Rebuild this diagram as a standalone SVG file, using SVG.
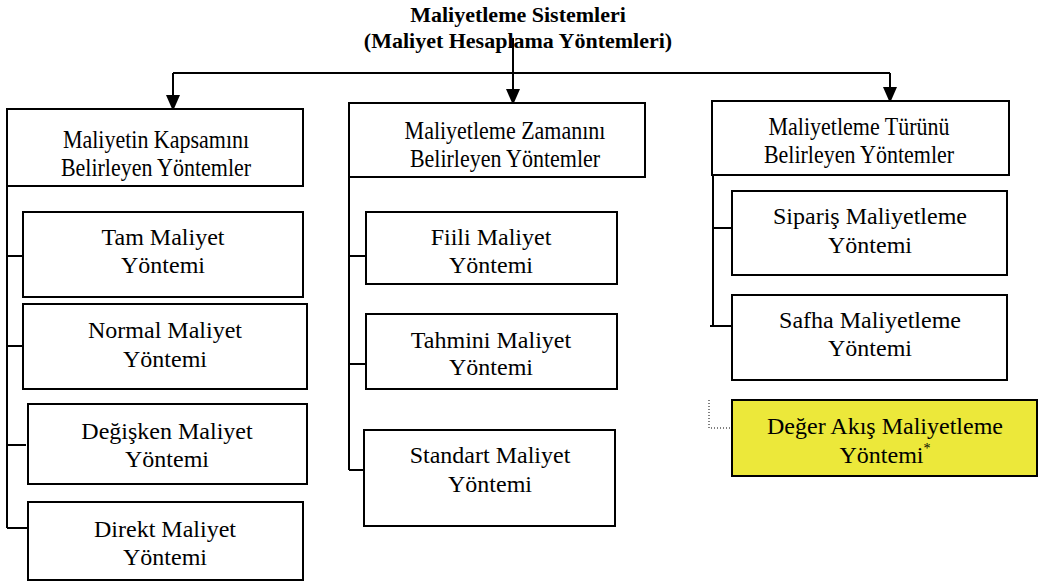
<svg xmlns="http://www.w3.org/2000/svg" width="1039" height="581" viewBox="0 0 1039 581">
<defs>
<style>
.box{fill:#fff;stroke:#000;stroke-width:2}
.hl{fill:#ECE83A;stroke:#000;stroke-width:2}
.t{font-family:"Liberation Serif","Times New Roman",serif;font-size:24px;fill:#000;text-anchor:middle}
.h{font-family:"Liberation Serif","Times New Roman",serif;font-size:22px;fill:#000;text-anchor:middle}
.title{font-family:"Liberation Serif","Times New Roman",serif;font-size:22px;font-weight:bold;fill:#000;text-anchor:middle}
.ln{fill:none;stroke:#000;stroke-width:2}
.dot{fill:none;stroke:#000;stroke-width:1;stroke-dasharray:1 2}
</style>
<marker id="ah" viewBox="0 0 14 16" refX="14" refY="7" markerWidth="14" markerHeight="16" markerUnits="userSpaceOnUse" orient="auto">
<path d="M0,0 L16,7 L0,14 Z" fill="#000"/>
</marker>
</defs>
<rect width="1039" height="581" fill="#fff"/>
<g id="title">
<text class="title" x="518" y="22">Maliyetleme Sistemleri</text>
<text class="title" x="518" y="48">(Maliyet Hesaplama Yöntemleri)</text>
</g>
<g id="connectors">
<path class="ln" d="M173,73 H890"/>
<path class="ln" d="M173,73 V109" marker-end="url(#ah)"/>
<path class="ln" d="M513,38 V103" marker-end="url(#ah)"/>
<path class="ln" d="M890,73 V101" marker-end="url(#ah)"/>
<path class="ln" d="M7,186 V528 M7,256 H23 M7,346 H27 M7,445 H26 M7,528 H28"/>
<path class="ln" d="M349,177 V470 M349,256 H366 M349,364 H366 M349,470 H364"/>
<path class="ln" d="M713,175 V326 M713,228 H732 M710,326 H732"/>
<path class="dot" d="M709,400 V428 H732"/>
</g>
<g id="h1">
<rect class="box" x="7" y="109" width="296" height="77"/>
<text class="h" transform="translate(156,148) scale(1,1.15)">Maliyetin Kapsamını</text>
<text class="h" transform="translate(156,176) scale(1,1.15)">Belirleyen Yöntemler</text>
</g>
<g id="h2">
<rect class="box" x="349" y="103" width="296" height="74"/>
<text class="h" transform="translate(505,139) scale(1,1.15)">Maliyetleme Zamanını</text>
<text class="h" transform="translate(505,167) scale(1,1.15)">Belirleyen Yöntemler</text>
</g>
<g id="h3">
<rect class="box" x="712" y="101" width="297" height="74"/>
<text class="h" transform="translate(859,135) scale(1,1.15)">Maliyetleme Türünü</text>
<text class="h" transform="translate(859,163) scale(1,1.15)">Belirleyen Yöntemler</text>
</g>
<g id="tam">
<rect class="box" x="23" y="212" width="280" height="85"/>
<text class="t" x="163" y="245">Tam Maliyet</text>
<text class="t" x="163" y="273">Yöntemi</text>
</g>
<g id="normal">
<rect class="box" x="23" y="304" width="284" height="85"/>
<text class="t" x="165" y="338">Normal Maliyet</text>
<text class="t" x="165" y="367">Yöntemi</text>
</g>
<g id="degisken">
<rect class="box" x="28" y="404" width="279" height="80"/>
<text class="t" x="167" y="439">Değişken Maliyet</text>
<text class="t" x="167" y="467">Yöntemi</text>
</g>
<g id="direkt">
<rect class="box" x="28" y="502" width="275" height="78"/>
<text class="t" x="165" y="537">Direkt Maliyet</text>
<text class="t" x="165" y="565">Yöntemi</text>
</g>
<g id="fiili">
<rect class="box" x="366" y="212" width="251" height="72"/>
<text class="t" x="491" y="245">Fiili Maliyet</text>
<text class="t" x="491" y="273">Yöntemi</text>
</g>
<g id="tahmini">
<rect class="box" x="366" y="314" width="251" height="75"/>
<text class="t" x="491" y="348">Tahmini Maliyet</text>
<text class="t" x="491" y="375">Yöntemi</text>
</g>
<g id="standart">
<rect class="box" x="364" y="430" width="251" height="96"/>
<text class="t" x="490" y="463">Standart Maliyet</text>
<text class="t" x="490" y="492">Yöntemi</text>
</g>
<g id="siparis">
<rect class="box" x="732" y="191" width="275" height="84"/>
<text class="t" x="870" y="224">Sipariş Maliyetleme</text>
<text class="t" x="870" y="253">Yöntemi</text>
</g>
<g id="safha">
<rect class="box" x="732" y="295" width="275" height="85"/>
<text class="t" x="870" y="328">Safha Maliyetleme</text>
<text class="t" x="870" y="356">Yöntemi</text>
</g>
<g id="deger">
<rect class="hl" x="732" y="400" width="305" height="76"/>
<text class="t" x="885" y="434">Değer Akış Maliyetleme</text>
<text class="t" x="885" y="463">Yöntemi<tspan font-size="14" dy="-10">*</tspan></text>
</g>
</svg>
